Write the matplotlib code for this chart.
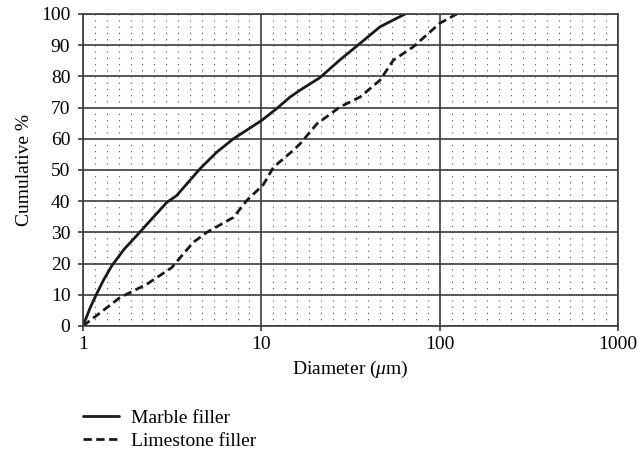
import matplotlib
matplotlib.use("Agg")
import matplotlib.pyplot as plt
from matplotlib.ticker import FixedLocator, NullFormatter

# Data
marble_d = [1.0, 1.1, 1.19, 1.3, 1.45, 1.7, 2.04, 2.5, 2.95, 3.35, 4.53, 5.62, 6.97, 10.05, 12.2, 14.5, 16.5, 21.3, 27.6, 35.8, 46.3, 64.0]
marble_v = [0.0, 6.0, 10.2, 14.6, 19.3, 24.6, 29.5, 35.1, 39.6, 41.8, 50.4, 55.7, 60.0, 65.9, 69.7, 73.4, 75.6, 79.6, 85.3, 90.6, 95.9, 100.0]

lime_d = [1.0, 1.61, 2.28, 3.14, 4.15, 4.94, 6.97, 8.28, 10.26, 11.7, 15.1, 16.5, 20.5, 27.6, 35.8, 46.3, 55.0, 71.2, 100.0, 124.7]
lime_v = [0.0, 9.1, 13.4, 18.7, 26.8, 30.0, 34.8, 40.2, 45.3, 50.9, 56.3, 58.4, 64.8, 70.2, 73.4, 78.8, 85.2, 89.5, 97.0, 100.0]

x_ticks = [1, 10, 100, 1000]
x_labels = ["1", "10", "100", "1000"]
y_ticks = list(range(0, 101, 10))

labels = ["Marble filler", "Limestone filler"]

plt.rcParams['font.family'] = ['Liberation Serif', 'DejaVu Serif']
plt.rcParams['mathtext.fontset'] = 'custom'
plt.rcParams['mathtext.it'] = 'Liberation Serif:italic'
plt.rcParams['mathtext.rm'] = 'Liberation Serif'

FS = 14

fig = plt.figure(figsize=(6.38, 4.59), dpi=100)
ax = fig.add_axes([83/638, 1-326/459, (618-83)/638, (326-14)/459])

gc = '#3c3c3c'
ax.set_xscale('log')
ax.set_xlim(1, 1000)
ax.set_ylim(0, 100)

# dotted background pattern: dotted vertical minor grid lines, 15 per decade
minor_pos = [10 ** (d + k / 15) for d in range(3) for k in range(1, 15)]
ax.xaxis.set_minor_locator(FixedLocator(minor_pos))
ax.xaxis.set_minor_formatter(NullFormatter())
ax.grid(True, which='minor', axis='x', color='#505050', lw=0.8, linestyle=(0, (1, 4.6)))
ax.grid(True, which='major', axis='both', color=gc, lw=1.2, linestyle='-')
ax.set_axisbelow(True)

ax.plot(marble_d, marble_v, color='#1a1a1a', lw=2.0, solid_joinstyle='round',
        solid_capstyle='round', label=labels[0])
ax.plot(lime_d, lime_v, color='#1a1a1a', lw=2.0, linestyle=(0, (3.0, 1.6)), label=labels[1])

ax.xaxis.set_major_locator(FixedLocator(x_ticks))
ax.set_xticklabels(x_labels)
ax.set_yticks(y_ticks)
ax.tick_params(axis='both', which='major', length=3.6, width=1.2, color=gc, labelsize=FS)
ax.tick_params(axis='x', which='major', pad=3.5)
ax.tick_params(axis='y', which='major', pad=5.5)
ax.tick_params(axis='x', which='minor', length=0)
for s in ax.spines.values():
    s.set_color(gc)
    s.set_linewidth(1.2)

ax.set_xlabel(r'Diameter ($\mu$m)', fontsize=FS, labelpad=4)
ax.set_ylabel('Cumulative %', fontsize=FS, labelpad=6)

fig.legend(loc='upper left', bbox_to_anchor=(83/638, 1-409/459), frameon=False,
           fontsize=FS, handlelength=1.85, handletextpad=0.6, labelspacing=0.3,
           borderpad=0, borderaxespad=0)

fig.savefig('out.png', dpi=100)
